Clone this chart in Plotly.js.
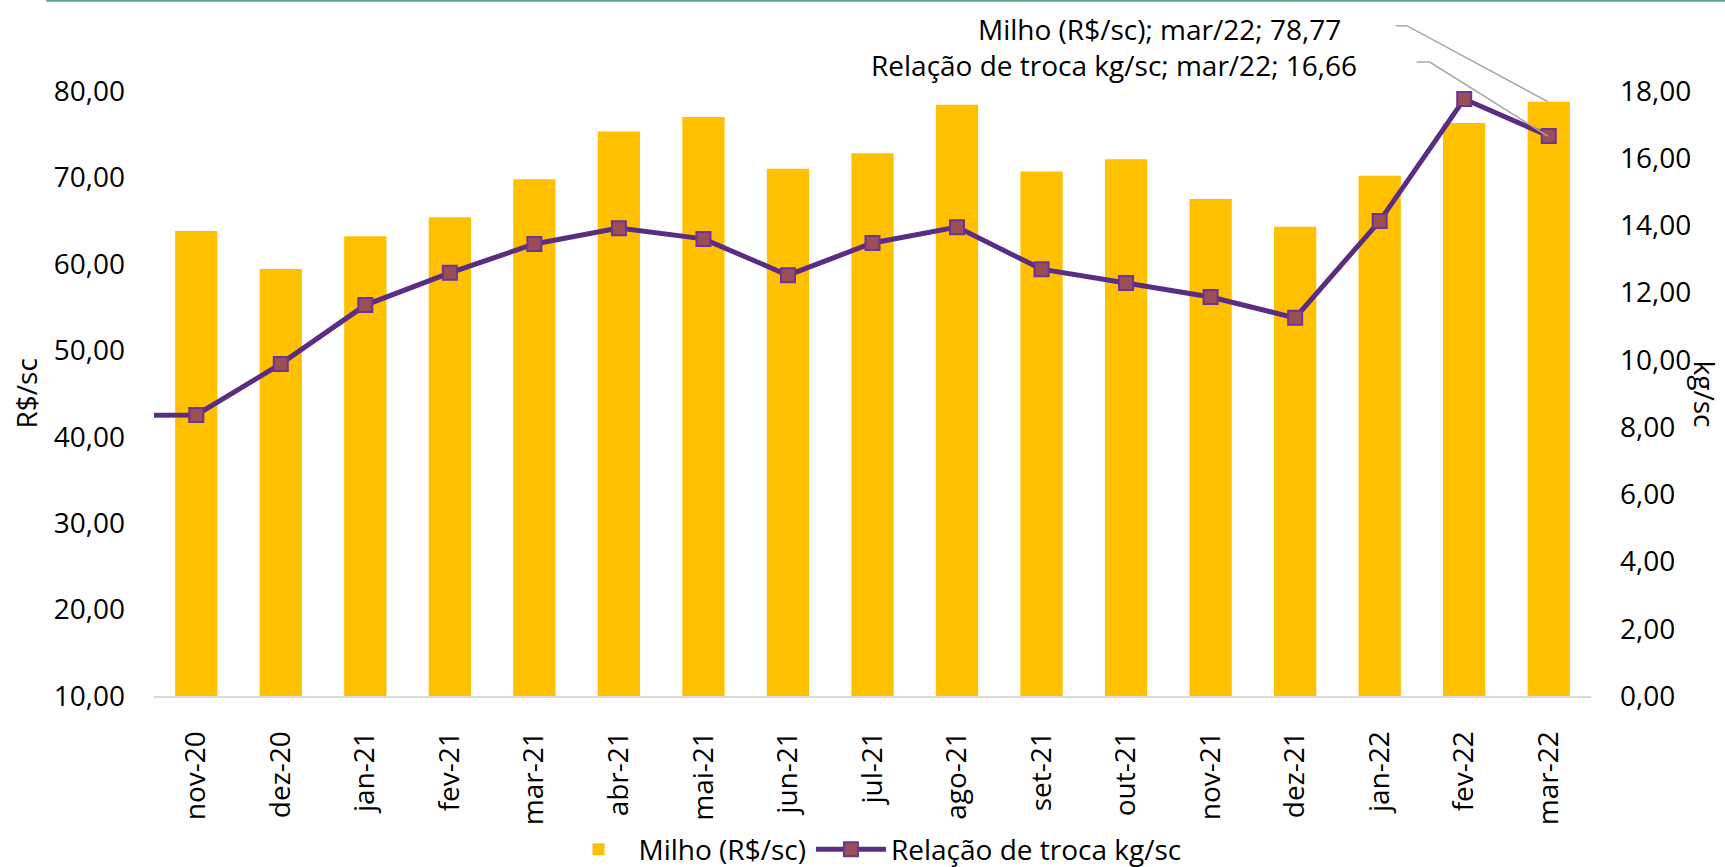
<!DOCTYPE html>
<html>
<head>
<meta charset="utf-8">
<script src="https://cdn.plot.ly/plotly-3.0.1.min.js"></script>
<style>
  html, body { margin: 0; padding: 0; background: #fff; }
  #chart { width: 1725px; height: 867px; }
</style>
</head>
<body>
<div id="chart"></div>
<script>
// ---- data ----
const months = ['nov-20','dez-20','jan-21','fev-21','mar-21','abr-21','mai-21','jun-21','jul-21','ago-21','set-21','out-21','nov-21','dez-21','jan-22','fev-22','mar-22'];
const milho = [63.8, 59.4, 63.2, 65.4, 69.8, 75.3, 77.0, 71.0, 72.8, 78.4, 70.7, 72.1, 67.5, 64.3, 70.2, 76.3, 78.77];
const relacao = [8.36, 9.88, 11.63, 12.59, 13.45, 13.92, 13.60, 12.52, 13.48, 13.95, 12.70, 12.29, 11.87, 11.25, 14.13, 17.76, 16.66];
// previous month, outside the visible range (line enters from the left edge)
const prevMonth = 'out-20';
const prevRelacao = 8.35;

const nameMilho = 'Milho (R$/sc)';
const nameRelacao = 'Relação de troca kg/sc';
const lastLabel = 'mar/22';

const yRange = [10, 80];
const y2Range = [0, 18];

const fmt = v => v.toFixed(2).replace('.', ',');
const last = months.length - 1;
const toPaper = (v, r) => (v - r[0]) / (r[1] - r[0]);

const traces = [
  {
    type: 'bar', name: nameMilho, x: months, y: milho, yaxis: 'y',
    width: 0.5, marker: { color: '#FFC000' }
  },
  {
    type: 'scatter', mode: 'lines+markers', name: nameRelacao,
    x: [prevMonth].concat(months), y: [prevRelacao].concat(relacao), yaxis: 'y2',
    line: { color: '#5B2C83', width: 5 },
    marker: { symbol: 'square', size: 14, color: '#9C4E57', line: { color: '#6A3595', width: 2 } }
  }
];

const layout = {
  width: 1725, height: 867,
  margin: { l: 154, r: 134, t: 91, b: 171 },
  paper_bgcolor: '#ffffff', plot_bgcolor: '#ffffff',
  font: { family: 'Open Sans, sans-serif', size: 28, color: '#000000' },
  separators: ',.',
  showlegend: true,
  legend: {
    orientation: 'h', x: 0.5, xanchor: 'center',
    yref: 'container', y: 0.02, yanchor: 'middle',
    font: { size: 28 }, itemwidth: 70, traceorder: 'normal'
  },
  xaxis: {
    type: 'category', categoryorder: 'array', categoryarray: [prevMonth].concat(months),
    range: [0.5, months.length + 0.5],
    tickangle: -90, showgrid: false, zeroline: false,
    showline: true, linecolor: '#D9D9D9', linewidth: 2,
    ticks: '', ticklabelstandoff: 22
  },
  yaxis: {
    range: yRange, dtick: 10, tickformat: '.2f',
    showgrid: false, zeroline: false, showline: false,
    ticks: '', ticklabelstandoff: 28
  },
  yaxis2: {
    overlaying: 'y', side: 'right', range: y2Range, dtick: 2, tickformat: '.2f',
    showgrid: false, zeroline: false, showline: false,
    ticks: '', ticklabelstandoff: 28
  },
  annotations: [
    { xref: 'paper', yref: 'paper', x: 0, y: 0.5, xshift: -129, xanchor: 'center', yanchor: 'middle',
      text: 'R$/sc', textangle: -90, showarrow: false, font: { size: 28 } },
    { xref: 'paper', yref: 'paper', x: 1, y: 0.5, xshift: 114, xanchor: 'center', yanchor: 'middle',
      text: 'kg/sc', textangle: 90, showarrow: false, font: { size: 28 }, borderpad: 0 },
    { xref: 'x', yref: 'y', x: months[last], y: milho[last], xanchor: 'right', yanchor: 'middle',
      xshift: -207, yshift: 73, showarrow: false, borderpad: 0,
      text: nameMilho + '; ' + lastLabel + '; ' + fmt(milho[last]), font: { size: 28 } },
    { xref: 'x', yref: 'y2', x: months[last], y: relacao[last], xanchor: 'right', yanchor: 'middle',
      xshift: -191, yshift: 71, showarrow: false, borderpad: 0,
      text: nameRelacao + '; ' + lastLabel + '; ' + fmt(relacao[last]), font: { size: 28 } }
  ],
  shapes: [
    { type: 'line', xref: 'paper', yref: 'paper', x0: -0.075, x1: 1.1, y0: 1.149, y1: 1.149,
      line: { color: '#4FAA80', width: 2 } },
    { type: 'path', xref: 'x', yref: 'paper', xsizemode: 'pixel', ysizemode: 'pixel',
      xanchor: months[last], yanchor: toPaper(milho[last], yRange),
      path: 'M-1,0 L-142,76 L-153,76', line: { color: '#A6A6A6', width: 1.5 } },
    { type: 'path', xref: 'x', yref: 'paper', xsizemode: 'pixel', ysizemode: 'pixel',
      xanchor: months[last], yanchor: toPaper(relacao[last], y2Range),
      path: 'M-1,0 L-119,74 L-132,74', line: { color: '#A6A6A6', width: 1.5 } }
  ]
};

Plotly.newPlot('chart', traces, layout, { displayModeBar: false, staticPlot: true });
</script>
</body>
</html>
